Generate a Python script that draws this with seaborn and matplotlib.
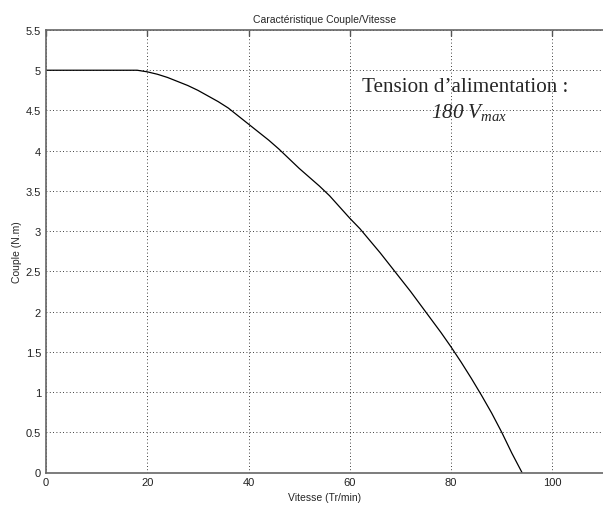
import pandas as pd
import matplotlib.pyplot as plt
import seaborn as sns

# Couple / vitesse
vitesse = [0, 10, 18, 20, 22, 24, 26, 28, 30, 32, 34, 36, 38, 40, 42, 44, 46,
           48, 50, 52, 54, 56, 58, 60, 62, 64, 66, 68, 70, 72, 74, 76, 78, 80,
           82, 84, 86, 88, 90, 92, 94]
couple = [5.0, 5.0, 5.0, 4.98, 4.95, 4.91, 4.86, 4.81, 4.75, 4.68, 4.61, 4.53,
          4.43, 4.33, 4.23, 4.13, 4.02, 3.90, 3.78, 3.67, 3.56, 3.44, 3.30,
          3.16, 3.03, 2.88, 2.73, 2.57, 2.41, 2.25, 2.08, 1.91, 1.74, 1.56,
          1.37, 1.17, 0.96, 0.74, 0.50, 0.24, 0.0]

xticks = [0, 20, 40, 60, 80, 100]
yticks = [0, 0.5, 1, 1.5, 2, 2.5, 3, 3.5, 4, 4.5, 5, 5.5]

df = pd.DataFrame({"Vitesse": vitesse, "Couple": couple})

sns.set_style("white")
plt.rcParams["font.family"] = ["Liberation Sans", "DejaVu Sans"]
# seule l'annotation utilise mathtext -> tout en Times italique
plt.rcParams["mathtext.fontset"] = "custom"
plt.rcParams["mathtext.it"] = "Liberation Serif:italic"
plt.rcParams["mathtext.rm"] = "Liberation Serif:italic"

fig = plt.figure(figsize=(6.03, 5.10), dpi=100)
ax = fig.add_axes([46 / 603, 36.5 / 510, 557 / 603, 442.5 / 510])

sns.lineplot(data=df, x="Vitesse", y="Couple", color="black", linewidth=0.9, ax=ax)

ax.set_xlim(0, 110)
ax.set_ylim(0, 5.5)
ax.set_xticks(xticks)
ax.set_yticks(yticks)
ax.set_yticklabels([f"{t:g}" for t in yticks])
ax.grid(True, linestyle=(0, (1, 3)), color="black", linewidth=0.6)

ax.tick_params(direction="in", length=4, width=1, colors="#555555",
               labelsize=8, labelcolor="#222222", top=True)
for side in ["left", "bottom", "top"]:
    ax.spines[side].set_color("#666666")
    ax.spines[side].set_linewidth(1.2)
ax.spines["right"].set_visible(False)

ax.set_title("Caractéristique Couple/Vitesse", fontsize=7.5, pad=6)
ax.set_xlabel("Vitesse (Tr/min)", fontsize=7.5, labelpad=3)
ax.set_ylabel("Couple (N.m)", fontsize=7.5, labelpad=3)

ax.text(62.5, 4.8, "Tension d\u2019alimentation :", fontsize=15.2,
        family="Liberation Serif", va="center")
ax.text(76, 4.49, r"$180\ V_{max}$", fontsize=15.2, va="center")

fig.savefig("out.png", dpi=100)
